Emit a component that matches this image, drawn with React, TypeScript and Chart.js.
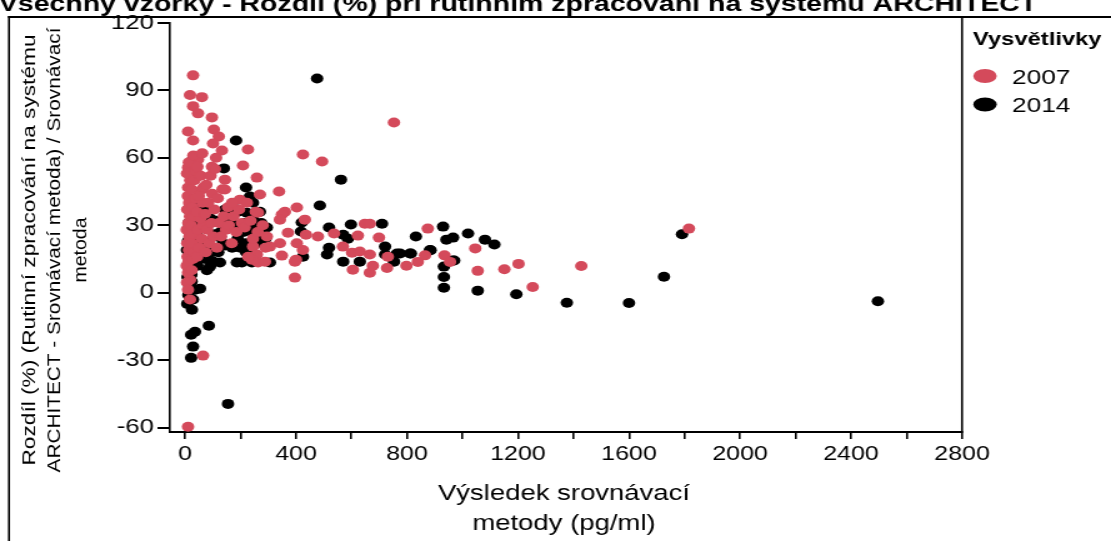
import React, { useEffect, useRef } from 'react';
import { Chart, registerables } from 'chart.js';

Chart.register(...registerables);

// canvas is drawn narrower and stretched horizontally, like the reference
const CW = 889;
const CH = 541;
const SX = 1111 / CW;

const TITLE = 'Všechny vzorky - Rozdíl (%) při rutinním zpracování na systému ARCHITECT';
const Y_TITLE = [
  'Rozdíl (%) (Rutinní zpracování na systému',
  'ARCHITECT - Srovnávací metoda) / Srovnávací',
  'metoda',
];
const X_TITLE = ['Výsledek srovnávací', 'metody (pg/ml)'];
const LEGEND_TITLE = 'Vysvětlivky';
const SERIES_NAMES = ['2007', '2014'];
const SERIES_COLORS = ['#D44A5B', '#000000'];

const X_TICKS = [0, 200, 400, 600, 800, 1000, 1200, 1400, 1600, 1800, 2000, 2200, 2400, 2600, 2800];
const X_LABEL_STEP = 400;
const Y_TICKS = [-60, -30, 0, 30, 60, 90, 120];

const points2007: [number, number][] = [
  [29, 96.7], [18, 88], [61, 87], [29, 83], [47, 79.8], [97, 78], [11, 71.7], [104, 72.6],
  [122, 69.5], [29, 67.7], [101, 66.4], [133, 63.3], [227, 63.7], [112, 60], [425, 61.5],
  [494, 58.4], [11, 55.7], [97, 56], [209, 56.6], [47, 59.3], [43, 51.7], [144, 50.3],
  [259, 51.2], [11, 46.8], [61, 45.9], [144, 45.9], [270, 43.7], [339, 45], [198, 41.4],
  [223, 40], [403, 37.9], [360, 36], [349, 34.8], [263, 35.6], [432, 32.5], [648, 30.7],
  [666, 30.7], [875, 28.5], [753, 75.7], [11, -59.7], [65, -28], [18, -3], [396, 6.7],
  [349, 16.5], [396, 13.8], [263, 13.4], [288, 13.8], [605, 10.2], [666, 8.9], [677, 12],
  [728, 11], [798, 12], [839, 13.7], [865, 16.6], [935, 16.6], [955, 13.7], [699, 24.5],
  [731, 16], [602, 17.8], [630, 18.3], [666, 17], [623, 25.4], [479, 25], [537, 26.3],
  [569, 20.5], [436, 25.8], [425, 19], [403, 22], [400, 14.7], [342, 32.5], [371, 26.7],
  [342, 22], [295, 25], [306, 20.5], [245, 20.5], [259, 17], [241, 14.7], [18, 5.8],
  [11, 8.9], [7, 4.5], [11, 1.3],
  [1046, 19.7], [1055, 9.7], [1151, 10.4], [1202, 12.8], [1253, 2.5], [1428, 11.9], [1816, 28.5],
  [6, 12], [9, 16], [14, 19], [8, 22], [16, 25], [6, 28], [12, 31], [18, 34], [8, 37], [15, 40],
  [10, 43], [19, 50], [7, 53], [14, 58], [20, 27], [13, 14],
  [24, 10], [28, 15], [33, 18], [25, 22], [37, 26], [22, 30], [31, 34], [27, 38], [36, 42],
  [23, 46], [34, 50], [39, 54], [30, 61], [25, 26],
  [44, 16], [52, 20], [60, 24], [47, 28], [66, 30], [55, 33], [42, 36], [63, 40], [50, 43],
  [68, 47], [57, 52], [45, 56], [62, 62],
  [75, 18], [88, 22], [102, 25], [80, 28], [95, 31], [72, 35], [106, 37], [84, 40], [98, 44],
  [77, 48], [92, 52], [108, 55],
  [115, 20], [130, 25], [148, 28], [122, 31], [140, 34], [155, 38], [118, 42], [135, 46], [158, 30],
  [168, 22], [185, 27], [205, 31], [175, 34], [195, 37], [215, 29], [170, 40],
  [228, 16], [245, 24], [262, 27], [280, 30], [236, 32], [290, 20], [255, 36],
];

const points2014: [number, number][] = [
  [476, 95.3], [184, 67.7], [29, 59.3], [140, 55.3], [220, 46.8], [562, 50.3], [486, 38.8],
  [234, 42.8], [245, 40], [173, 37.9], [144, 37], [421, 31.2], [519, 29], [598, 30.3],
  [710, 30.7], [930, 29.4], [832, 25], [966, 24.5], [1020, 26.3], [418, 27.2], [519, 20],
  [512, 17], [425, 16], [764, 17.4], [753, 13.8], [721, 20.5], [721, 17], [811, 17.4],
  [883, 19], [933, 11.6], [933, 7], [933, 2.2], [570, 13.8], [630, 13.8], [966, 14.3],
  [306, 13.4], [187, 13.4], [205, 13.4], [241, 13.4], [126, 13.4], [86, -14.7], [36, -17.4],
  [22, -18.7], [29, -24], [22, -29], [155, -49.5], [25, -7.6], [29, -3], [36, 1.3], [54, 1.8],
  [79, 10], [90, 11.6], [220, 22], [220, 18], [245, 26.7], [270, 25.8], [295, 29], [270, 36],
  [245, 32.5], [216, 31], [177, 37.4], [191, 36], [223, 35.6], [151, 35.6], [162, 32.5],
  [115, 25], [137, 22], [570, 25.8], [587, 24],
  [942, 23.6], [1081, 23.6], [1115, 21.4], [775, 17.4], [814, 17.4], [885, 18.9], [970, 14.3],
  [1055, 0.9], [1194, -0.7], [1376, -4.5], [1600, -4.6], [1726, 7.1], [1791, 26], [2497, -3.8],
  [8, -5], [12, -1], [16, 3], [9, 7], [14, 11], [18, 15], [7, 19], [11, 23], [17, 27], [13, 31], [19, 36],
  [23, 8], [30, 12], [26, 16], [35, 20], [21, 24], [38, 28], [28, 32], [33, 40], [24, 5],
  [45, 12], [58, 16], [50, 20], [66, 23], [43, 27], [61, 30], [54, 34], [69, 38],
  [74, 15], [96, 18], [83, 22], [105, 26], [78, 29], [92, 33], [100, 14],
  [120, 18], [145, 21], [128, 27], [156, 29], [112, 32], [135, 31],
  [170, 20], [190, 24], [210, 27], [182, 30], [200, 20],
  [232, 20], [258, 22], [275, 31], [290, 24], [250, 29],
];

const FONT = '"Liberation Sans", Arial, Helvetica, sans-serif';

const decorPlugin = {
  id: 'decor',
  afterDraw(chart: any) {
    const ctx: CanvasRenderingContext2D = chart.ctx;
    const area = chart.chartArea;
    ctx.save();
    ctx.fillStyle = '#000';
    // outer frame (left + top)
    ctx.fillRect(8 / SX, 16, 2 / SX, CH - 16);
    ctx.fillRect(8 / SX, 16, CW, 2);
    // right border of the plot
    ctx.fillRect(area.right - 0.8, 16, 1.6, area.bottom - 16 + 1);

    // title (cropped at the top, as in the reference)
    ctx.font = `bold 22.8px ${FONT}`;
    ctx.textAlign = 'left';
    ctx.textBaseline = 'alphabetic';
    ctx.fillText(TITLE, -1, 11);

    // y axis title
    ctx.font = `21px ${FONT}`;
    ctx.textAlign = 'center';
    ctx.textBaseline = 'middle';
    const ycx = [30, 55, 81];
    const ylen = [1.08, 0.99, 0.93];
    Y_TITLE.forEach((line, i) => {
      ctx.save();
      ctx.translate(ycx[i] / SX, 250);
      ctx.rotate(-Math.PI / 2);
      ctx.scale(ylen[i], 0.7);
      ctx.fillText(line, 0, 0);
      ctx.restore();
    });

    // x axis title
    ctx.font = `22px ${FONT}`;
    ctx.textAlign = 'center';
    ctx.textBaseline = 'alphabetic';
    const xc = 564 / SX;
    ctx.fillText(X_TITLE[0], xc, 500);
    ctx.fillText(X_TITLE[1], xc, 530);

    // legend
    ctx.textAlign = 'left';
    ctx.font = `bold 19px ${FONT}`;
    ctx.fillText(LEGEND_TITLE, 973 / SX, 45);
    ctx.font = `21px ${FONT}`;
    const rows = [76, 104.5];
    SERIES_NAMES.forEach((name, i) => {
      ctx.fillStyle = SERIES_COLORS[i];
      ctx.beginPath();
      ctx.ellipse(985 / SX, rows[i], 9.4, 7, 0, 0, Math.PI * 2);
      ctx.fill();
      ctx.fillStyle = '#000';
      ctx.fillText(name, 1012 / SX, rows[i] + 7.5);
    });
    ctx.restore();
  },
};

export default function App() {
  const ref = useRef<HTMLCanvasElement | null>(null);

  useEffect(() => {
    if (!ref.current) return;
    Chart.defaults.font.family = FONT;
    const chart = new Chart(ref.current, {
      type: 'scatter',
      data: {
        datasets: [
          {
            label: SERIES_NAMES[0],
            data: points2007.map(([x, y]) => ({ x, y })),
            backgroundColor: SERIES_COLORS[0],
            borderWidth: 0,
            pointRadius: 5,
            pointHoverRadius: 5,
          },
          {
            label: SERIES_NAMES[1],
            data: points2014.map(([x, y]) => ({ x, y })),
            backgroundColor: SERIES_COLORS[1],
            borderWidth: 0,
            pointRadius: 5,
            pointHoverRadius: 5,
          },
        ],
      },
      options: {
        animation: false,
        responsive: false,
        devicePixelRatio: 1,
        events: [],
        layout: { padding: { top: 23, right: CW - 962 / SX, bottom: 0, left: 0 } },
        plugins: { legend: { display: false }, tooltip: { enabled: false } },
        scales: {
          x: {
            type: 'linear',
            position: 'bottom',
            min: -54,
            max: 2800,
            afterBuildTicks: (s: any) => {
              s.ticks = X_TICKS.map((v) => ({ value: v }));
            },
            afterFit: (s: any) => {
              s.height = CH - 432;
            },
            ticks: {
              autoSkip: false,
              maxRotation: 0,
              color: '#000',
              font: { size: 20 },
              padding: 3,
              callback: (v: any) => (Number(v) % X_LABEL_STEP === 0 ? String(v) : ''),
            },
            grid: { drawOnChartArea: false, drawTicks: true, tickLength: 7, color: '#000', lineWidth: 1.6 },
            border: { display: true, color: '#000', width: 2 },
          },
          y: {
            type: 'linear',
            min: -62,
            max: 120,
            afterBuildTicks: (s: any) => {
              s.ticks = Y_TICKS.map((v) => ({ value: v }));
            },
            afterFit: (s: any) => {
              s.width = 170 / SX;
            },
            ticks: { color: '#000', font: { size: 20.5 }, padding: 3, autoSkip: false },
            grid: { drawOnChartArea: false, drawTicks: true, tickLength: 10, color: '#000', lineWidth: 2 },
            border: { display: true, color: '#000', width: 1.6 },
          },
        },
      },
      plugins: [decorPlugin],
    });
    return () => chart.destroy();
  }, []);

  return (
    <div style={{ position: 'absolute', left: 0, top: 0, width: 1111, height: 541, overflow: 'hidden', background: '#fff' }}>
      <canvas ref={ref} width={CW} height={CH} style={{ width: '1111px', height: '541px', display: 'block' }} />
    </div>
  );
}
